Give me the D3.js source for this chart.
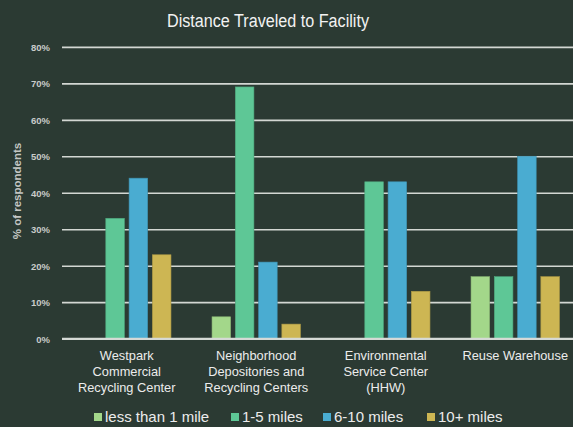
<!DOCTYPE html>
<html>
<head>
<meta charset="utf-8">
<script src="https://cdn.jsdelivr.net/npm/d3@7"></script>
<style>
  html, body { margin: 0; padding: 0; background: #2b3a33; }
  svg { display: block; }
  text { font-family: "Liberation Sans", Arial, sans-serif; }
</style>
</head>
<body>
<svg id="chart" width="573" height="427"></svg>
<script>
// Survey results: share of respondents by distance travelled, per facility
const facilities = [
  ["Westpark", "Commercial", "Recycling Center"],
  ["Neighborhood", "Depositories and", "Recycling Centers"],
  ["Environmental", "Service Center", "(HHW)"],
  ["Reuse Warehouse"]
];
const seriesNames = ["less than 1 mile", "1-5 miles", "6-10 miles", "10+ miles"];
const seriesColors = ["#a3d78a", "#5ec796", "#4aacd1", "#cdb653"];
const lessThan1 = [null, 6, null, 17];
const oneToFive = [33, 69, 43, 17];
const sixToTen = [44, 21, 43, 50];
const tenPlus = [23, 4, 13, 17];
const yTicks = [0, 10, 20, 30, 40, 50, 60, 70, 80];

const series = [lessThan1, oneToFive, sixToTen, tenPlus];

const svg = d3.select("#chart");
const W = 573, H = 427;
const plotLeft = 62, plotRight = 580, plotTop = 46.8, plotBottom = 338.7;

const x0 = d3.scaleBand()
  .domain(d3.range(facilities.length))
  .range([plotLeft, plotRight])
  .paddingInner(0.317)
  .paddingOuter(0.1585);

const x1 = d3.scaleBand()
  .domain(d3.range(seriesNames.length))
  .range([0, x0.bandwidth()])
  .paddingInner(0.2)
  .paddingOuter(0);

const y = d3.scaleLinear().domain([0, 80]).range([plotBottom, plotTop]);

// Title (condensed to fit its width)
svg.append("text")
  .attr("x", 268)
  .attr("y", 26.5)
  .attr("text-anchor", "middle")
  .attr("fill", "#f2f2f2")
  .attr("textLength", 202)
  .attr("lengthAdjust", "spacingAndGlyphs")
  .style("font-size", "18px")
  .text("Distance Traveled to Facility");

// Gridlines and tick labels
const yAxis = d3.axisLeft(y)
  .tickValues(yTicks)
  .tickFormat(d => d + "%")
  .tickSize(-(W - plotLeft))
  .tickPadding(12);

const gy = svg.append("g")
  .attr("transform", `translate(${plotLeft},0)`)
  .call(yAxis);
gy.select(".domain").remove();
gy.selectAll(".tick line")
  .attr("stroke", "#d3d7d3")
  .attr("stroke-width", 1.7);
gy.selectAll(".tick text")
  .attr("fill", "#c9cbc9")
  .style("font-size", "9.5px")
  .style("font-weight", "bold")
  .attr("dy", "0.35em");

// Axis title
svg.append("text")
  .attr("transform", "translate(21,191) rotate(-90)")
  .attr("text-anchor", "middle")
  .attr("fill", "#c4c7c4")
  .style("font-size", "11.5px")
  .style("font-weight", "bold")
  .text("% of respondents");

// Bars
const groups = svg.append("g")
  .selectAll("g")
  .data(facilities.map((f, i) => i))
  .join("g")
  .attr("transform", i => `translate(${x0(i)},0)`);

groups.selectAll("rect")
  .data(i => series.map((s, k) => ({ k, v: s[i] })).filter(d => d.v != null))
  .join("rect")
  .attr("x", d => x1(d.k))
  .attr("width", x1.bandwidth())
  .attr("y", d => y(d.v))
  .attr("height", d => y(0) - y(d.v))
  .attr("fill", d => seriesColors[d.k])
  .attr("stroke", d => d3.color(seriesColors[d.k]).darker(0.5))
  .attr("stroke-width", 0.6);

// Baseline redrawn over the bars
svg.append("line")
  .attr("x1", plotLeft).attr("x2", W)
  .attr("y1", y(0)).attr("y2", y(0))
  .attr("stroke", "#d6dad6")
  .attr("stroke-width", 1.8);

// Category labels
facilities.forEach((lines, i) => {
  const cx = x0(i) + x0.bandwidth() / 2;
  const t = svg.append("text")
    .attr("text-anchor", "middle")
    .attr("fill", "#ececec")
    .style("font-size", "12.8px");
  lines.forEach((ln, j) => {
    t.append("tspan").attr("x", cx).attr("y", 360 + j * 16).text(ln);
  });
});

// Legend
const legendX = [94, 231, 323, 427];
const legend = svg.append("g");
seriesNames.forEach((name, k) => {
  legend.append("rect")
    .attr("x", legendX[k]).attr("y", 413)
    .attr("width", 8).attr("height", 8)
    .attr("fill", seriesColors[k]);
  legend.append("text")
    .attr("x", legendX[k] + 11).attr("y", 422)
    .attr("fill", "#ececec")
    .style("font-size", "15px")
    .text(name);
});
</script>
</body>
</html>
